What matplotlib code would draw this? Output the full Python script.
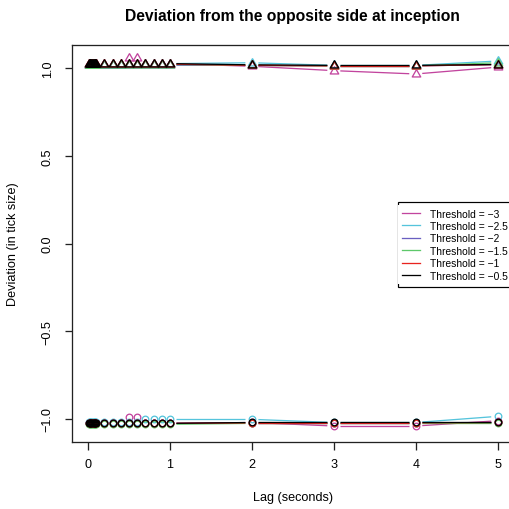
import numpy as np
import matplotlib
matplotlib.use("Agg")
import matplotlib.pyplot as plt
from matplotlib.lines import Line2D
from matplotlib.patches import Rectangle

plt.rcParams['font.family'] = ['Liberation Sans', 'DejaVu Sans']

# Lags (seconds)
lags = [0.01, 0.02, 0.03, 0.04, 0.05, 0.06, 0.07, 0.08, 0.09, 0.10,
        0.2, 0.3, 0.4, 0.5, 0.6, 0.7, 0.8, 0.9, 1.0,
        2, 3, 4, 5]

thresholds = ["\u22123", "\u22122.5", "\u22122", "\u22121.5", "\u22121", "\u22120.5"]
colors = ["#C2449E", "#55C4DC", "#6A5FC1", "#5DC86A", "#E8231F", "#000000"]

# Deviation on the upper side (triangles), one list per threshold
upper_m3 = [1.025, 1.025, 1.025, 1.025, 1.025, 1.025, 1.025, 1.025, 1.025, 1.025,
            1.025, 1.025, 1.025, 1.055, 1.055, 1.025, 1.025, 1.025, 1.025,
            1.010, 0.985, 0.966, 1.005]
upper_m25 = [1.016, 1.016, 1.016, 1.016, 1.016, 1.016, 1.016, 1.016, 1.016, 1.016,
             1.016, 1.016, 1.016, 1.022, 1.022, 1.025, 1.025, 1.025, 1.025,
             1.030, 1.015, 1.015, 1.040]
upper_m2 = [1.020, 1.020, 1.020, 1.020, 1.020, 1.020, 1.020, 1.020, 1.020, 1.020,
            1.020, 1.020, 1.020, 1.020, 1.016, 1.016, 1.016, 1.016, 1.016,
            1.015, 1.012, 1.012, 1.020]
upper_m15 = [1.020, 1.020, 1.020, 1.020, 1.020, 1.020, 1.020, 1.020, 1.020, 1.020,
             1.020, 1.020, 1.020, 1.020, 1.020, 1.020, 1.020, 1.020, 1.020,
             1.015, 1.012, 1.012, 1.030]
upper_m1 = [1.022, 1.022, 1.022, 1.022, 1.022, 1.022, 1.022, 1.022, 1.022, 1.022,
            1.022, 1.022, 1.022, 1.022, 1.022, 1.022, 1.022, 1.022, 1.022,
            1.015, 1.012, 1.012, 1.020]
upper_m05 = [1.025, 1.025, 1.025, 1.025, 1.025, 1.025, 1.025, 1.025, 1.025, 1.025,
             1.025, 1.025, 1.025, 1.025, 1.025, 1.025, 1.025, 1.025, 1.025,
             1.018, 1.015, 1.015, 1.020]

# Deviation on the lower side (circles), one list per threshold
lower_m3 = [-1.025, -1.025, -1.025, -1.025, -1.025, -1.025, -1.025, -1.025, -1.025, -1.025,
            -1.025, -1.025, -1.025, -0.990, -0.990, -1.025, -1.025, -1.025, -1.025,
            -1.020, -1.040, -1.040, -1.010]
lower_m25 = [-1.018, -1.018, -1.018, -1.018, -1.018, -1.018, -1.018, -1.018, -1.018, -1.018,
             -1.020, -1.020, -1.020, -1.020, -1.020, -1.002, -1.002, -1.002, -1.002,
             -1.002, -1.020, -1.020, -0.985]
lower_m2 = [-1.025, -1.025, -1.025, -1.025, -1.025, -1.025, -1.025, -1.025, -1.025, -1.025,
            -1.025, -1.025, -1.025, -1.025, -1.025, -1.025, -1.025, -1.025, -1.025,
            -1.022, -1.022, -1.022, -1.020]
lower_m15 = [-1.030, -1.030, -1.030, -1.030, -1.030, -1.030, -1.030, -1.030, -1.030, -1.030,
             -1.030, -1.030, -1.030, -1.030, -1.030, -1.030, -1.030, -1.030, -1.030,
             -1.025, -1.025, -1.025, -1.025]
lower_m1 = [-1.025, -1.025, -1.025, -1.025, -1.025, -1.025, -1.025, -1.025, -1.025, -1.025,
            -1.025, -1.025, -1.025, -1.025, -1.025, -1.025, -1.025, -1.025, -1.025,
            -1.022, -1.022, -1.022, -1.020]
lower_m05 = [-1.025, -1.025, -1.025, -1.025, -1.025, -1.025, -1.025, -1.025, -1.025, -1.025,
             -1.025, -1.025, -1.025, -1.025, -1.025, -1.025, -1.025, -1.025, -1.025,
             -1.020, -1.020, -1.020, -1.020]

upper = [upper_m3, upper_m25, upper_m2, upper_m15, upper_m1, upper_m05]
lower = [lower_m3, lower_m25, lower_m2, lower_m15, lower_m1, lower_m05]

x_ticks = [0, 1, 2, 3, 4, 5]
y_ticks = [-1.0, -0.5, 0.0, 0.5, 1.0]
y_ticklabels = ["\u22121.0", "\u22120.5", "0.0", "0.5", "1.0"]

W = H = 510
DPI = 100
fig = plt.figure(figsize=(W / DPI, H / DPI), dpi=DPI)

xlim = (-0.2, 5.2)
ylim = (-1.13, 1.13)
# plot region in pixels
left_px, right_px = 71.6, 514.1
top_px, bottom_px = 46.2, 442.8
ax = fig.add_axes([left_px / W, 1 - bottom_px / H,
                   (right_px - left_px) / W, (bottom_px - top_px) / H])
ax.set_xlim(*xlim)
ax.set_ylim(*ylim)

px = 72.0 / DPI  # points per pixel
AXFS = 12.6 * px

for s in ax.spines.values():
    s.set_linewidth(1.0 * px * 1.3)
    s.set_color("#222222")

ax.set_xticks(x_ticks)
ax.set_xticklabels([str(v) for v in x_ticks])
ax.set_yticks(y_ticks)
ax.set_yticklabels(y_ticklabels, rotation=90, va="center")
ax.tick_params(axis="both", direction="out", length=7.5 * px, width=1.0 * px * 1.3,
               color="#222222", labelsize=AXFS, pad=9 * px)
ax.tick_params(axis="y", pad=10.5 * px)

# open triangle marker
tri = [(0, 1), (-0.866, -0.5), (0.866, -0.5), (0, 1)]

GAP = 6.5  # pixels of gap around each point


def gapped_line(xs, ys, color):
    pts = ax.transData.transform(np.column_stack([xs, ys]))
    inv = ax.transData.inverted()
    for p0, p1 in zip(pts[:-1], pts[1:]):
        d = p1 - p0
        L = np.hypot(*d)
        if L <= 2 * GAP:
            continue
        u = d / L
        seg = inv.transform(np.vstack([p0 + u * GAP, p1 - u * GAP]))
        ax.plot(seg[:, 0], seg[:, 1], color=color, lw=1.0 * px * 1.3,
                solid_capstyle="butt")


for ys, c in zip(upper, colors):
    gapped_line(lags, ys, c)
    ax.plot(lags, ys, ls="none", marker=tri, ms=9.8 * px, mfc="none",
            mec=c, mew=1.3 * px)
for ys, c in zip(lower, colors):
    gapped_line(lags, ys, c)
    ax.plot(lags, ys, ls="none", marker="o", ms=6.6 * px, mfc="none",
            mec=c, mew=1.3 * px)

handles = [Line2D([], [], color=c, lw=1.0 * px * 1.3) for c in colors]
labels = ["Threshold = " + t for t in thresholds]
leg = ax.legend(handles, labels, loc="upper left",
                bbox_to_anchor=(398 / W, 1 - 206 / H), bbox_transform=fig.transFigure,
                borderaxespad=0, fontsize=10.2 * px, frameon=True, fancybox=False,
                framealpha=1, borderpad=0.35, handlelength=1.85,
                handletextpad=0.95, labelspacing=0.24)
leg.get_frame().set_edgecolor("none")

fig.text(292.8 / W, 1 - 17 / H, "Deviation from the opposite side at inception",
         ha="center", va="center", fontsize=15.6 * px, fontweight="bold")
fig.text(292.8 / W, 1 - 498 / H, "Lag (seconds)", ha="center", va="center",
         fontsize=AXFS)
fig.text(13 / W, 1 - 244.5 / H, "Deviation (in tick size)", ha="center",
         va="center", rotation=90, fontsize=AXFS)

# legend box runs past the right edge of the figure
fig.canvas.draw()
bb = leg.get_window_extent()
box = Rectangle((bb.x0, bb.y0 - 3), W + 10 - bb.x0, bb.height + 6, transform=None,
                facecolor="white", edgecolor="black", lw=1.0 * px * 1.2, zorder=4)
fig.add_artist(box)
leg.set_zorder(5)
leg.remove()
fig.add_artist(leg)

fig.savefig("out.png", dpi=DPI)
